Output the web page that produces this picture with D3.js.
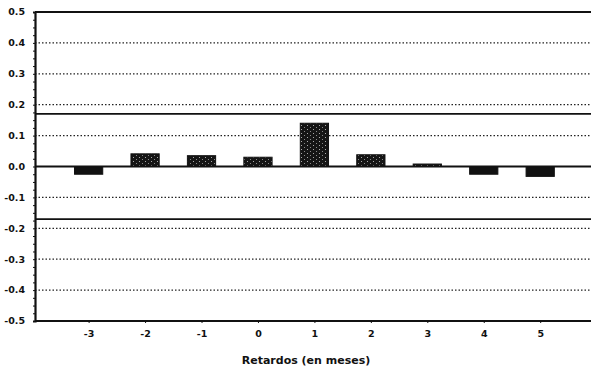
<!DOCTYPE html>
<html>
<head>
<meta charset="utf-8">
<script src="https://cdn.jsdelivr.net/npm/d3@7"></script>
<style>
  html, body { margin: 0; padding: 0; background: #fff; }
  svg { display: block; }
  text { font-family: "DejaVu Sans", "Noto Sans", sans-serif; font-weight: bold; fill: #111; }
</style>
</head>
<body>
<svg id="chart" width="591" height="370"></svg>
<script>
// Cross-correlation by lag (months)
const lags = [-3, -2, -1, 0, 1, 2, 3, 4, 5];
const correlations = [-0.025, 0.041, 0.035, 0.030, 0.140, 0.038, 0.008, -0.025, -0.032];
const yTicks = [0.5, 0.4, 0.3, 0.2, 0.1, 0.0, -0.1, -0.2, -0.3, -0.4, -0.5];
const confidenceBand = [0.17, -0.17];
const xTitle = "Retardos (en meses)";

const svg = d3.select("#chart");
const plotLeft = 35, plotRight = 591, plotTop = 12, plotBottom = 321;

const x = d3.scaleLinear().domain([-3.95, 5.9]).range([plotLeft, plotRight]);
const y = d3.scaleLinear().domain([-0.5, 0.5]).range([plotBottom, plotTop]);
const barHalf = 0.25;

// speckled fill for bars
const defs = svg.append("defs");
const pat = defs.append("pattern")
  .attr("id", "speckle").attr("patternUnits", "userSpaceOnUse")
  .attr("width", 6).attr("height", 4);
pat.append("rect").attr("width", 6).attr("height", 4).attr("fill", "#151515");
pat.append("rect").attr("x", 1).attr("y", 1).attr("width", 1).attr("height", 1).attr("fill", "#aaa");
pat.append("rect").attr("x", 4).attr("y", 3).attr("width", 1).attr("height", 1).attr("fill", "#888");

// dotted grid lines
svg.append("g").selectAll("line")
  .data(yTicks.filter(v => Math.abs(v) !== 0.5 && v !== 0))
  .join("line")
  .attr("x1", plotLeft).attr("x2", plotRight)
  .attr("y1", d => y(d)).attr("y2", d => y(d))
  .attr("stroke", "#222").attr("stroke-width", 1.2)
  .attr("stroke-dasharray", "1.5,2");

// bars
svg.append("g").selectAll("rect")
  .data(lags.map((l, i) => ({ lag: l, v: correlations[i] })))
  .join("rect")
  .attr("x", d => x(d.lag - barHalf))
  .attr("width", d => x(d.lag + barHalf) - x(d.lag - barHalf))
  .attr("y", d => y(Math.max(0, d.v)))
  .attr("height", d => Math.abs(y(d.v) - y(0)))
  .attr("fill", d => d.v < 0 ? "#111" : "url(#speckle)")
  .attr("stroke", "#111").attr("stroke-width", 1);

// confidence limits
svg.append("g").selectAll("line")
  .data(confidenceBand)
  .join("line")
  .attr("x1", plotLeft).attr("x2", plotRight)
  .attr("y1", d => y(d)).attr("y2", d => y(d))
  .attr("stroke", "#111").attr("stroke-width", 1.8);

// zero line, top frame and bottom axis
[0, 0.5, -0.5].forEach(v => {
  svg.append("line")
    .attr("x1", plotLeft).attr("x2", plotRight)
    .attr("y1", y(v)).attr("y2", y(v))
    .attr("stroke", "#111").attr("stroke-width", 2);
});

// left axis with minor ticks
const yAxis = d3.axisLeft(y).tickValues(d3.range(-0.5, 0.501, 0.025)).tickSize(2).tickFormat("");
const ya = svg.append("g").attr("transform", `translate(${plotLeft},0)`).call(yAxis);
ya.select(".domain").attr("stroke", "#111").attr("stroke-width", 2.2);
ya.selectAll(".tick line").attr("stroke", "#111");

svg.append("g").selectAll("text")
  .data(yTicks)
  .join("text")
  .attr("x", 25).attr("y", d => y(d))
  .attr("dy", "0.35em")
  .attr("text-anchor", "end")
  .attr("font-size", 9.5)
  .text(d => d3.format(".1f")(d).replace("−", "-"));

// bottom tick labels
const xAxis = d3.axisBottom(x).tickValues(lags).tickSize(2).tickFormat(d => String(d));
const xa = svg.append("g").attr("transform", `translate(0,${plotBottom})`).call(xAxis);
xa.select(".domain").remove();
xa.selectAll(".tick line").attr("stroke", "#111");
xa.selectAll(".tick text")
  .attr("y", 9).attr("font-size", 9.5)
  .style("font-family", "DejaVu Sans, sans-serif").style("font-weight", "bold").attr("fill", "#111");

svg.append("text")
  .attr("x", 306).attr("y", 364)
  .attr("text-anchor", "middle")
  .attr("font-size", 11)
  .text(xTitle);
</script>
</body>
</html>
